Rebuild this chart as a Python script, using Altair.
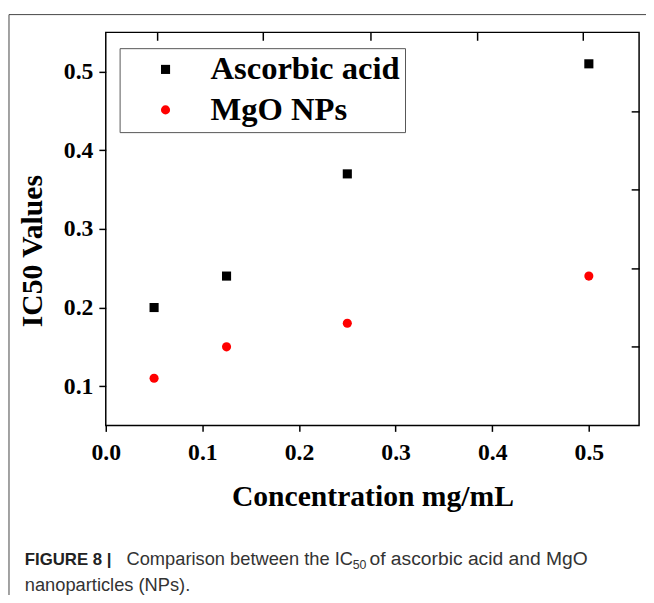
import altair as alt
import pandas as pd

# ---- data ----
concentration = [0.05, 0.125, 0.25, 0.5]
ascorbic_acid = [0.20, 0.24, 0.37, 0.51]
mgo_nps = [0.11, 0.15, 0.18, 0.24]
series_names = ["Ascorbic acid", "MgO NPs"]
x_ticks = [0.0, 0.1, 0.2, 0.3, 0.4, 0.5]
y_ticks = [0.1, 0.2, 0.3, 0.4, 0.5]
top_ticks = [0.0527, 0.163, 0.274, 0.384, 0.494]
right_ticks = [0.15, 0.25, 0.35, 0.45]
caption_bold = "FIGURE 8 |"
caption_line1a = "Comparison between the IC"
caption_sub = "50"
caption_line1b = "of ascorbic acid and MgO"
caption_line2 = "nanoparticles (NPs)."

rows = []
for c, v in zip(concentration, ascorbic_acid):
    rows.append({"conc": c, "ic50": v, "series": series_names[0]})
for c, v in zip(concentration, mgo_nps):
    rows.append({"conc": c, "ic50": v, "series": series_names[1]})
df = pd.DataFrame(rows)

W, H = 540, 398
SERIF = "Liberation Serif"
SANS = "Liberation Sans"

xscale = alt.Scale(domain=[0, 0.552], nice=False, zero=False)
yscale = alt.Scale(domain=[0.05, 0.55], nice=False, zero=False)

points = alt.Chart(df).mark_point(filled=True, opacity=1, size=85).encode(
    x=alt.X("conc:Q", scale=xscale,
            axis=alt.Axis(values=x_ticks, format=".1f", title="Concentration mg/mL",
                          orient="bottom", tickSize=6, labelPadding=9, labelFlush=False,
                          titleY=81, titleBaseline="alphabetic")),
    y=alt.Y("ic50:Q", scale=yscale,
            axis=alt.Axis(values=y_ticks, format=".1f", title="IC50 Values",
                          orient="left", tickSize=7, labelPadding=6, labelFlush=False,
                          titleX=-74, titleY=221, titleAngle=-90,
                          titleBaseline="middle", titleAlign="center")),
    color=alt.Color("series:N",
                    scale=alt.Scale(domain=series_names, range=["#000000", "#ff0000"]),
                    legend=alt.Legend(title=None)),
    shape=alt.Shape("series:N",
                    scale=alt.Scale(domain=series_names, range=["square", "circle"]),
                    legend=alt.Legend(title=None)),
)

# mirror ticks (top and right, inward)
mirror = alt.Chart(df).mark_point(opacity=0).encode(
    x=alt.X("conc:Q", scale=xscale,
            axis=alt.Axis(values=top_ticks, orient="top", labels=False, title=None,
                          domain=False, tickSize=8, offset=-8)),
    y=alt.Y("ic50:Q", scale=yscale,
            axis=alt.Axis(values=right_ticks, orient="right", labels=False, title=None,
                          domain=False, tickSize=8, offset=-8)),
)

one = pd.DataFrame({"k": [0]})

frame_top = alt.Chart(one).mark_rule(color="#444444", strokeWidth=1).encode(
    x=alt.value(-98), x2=alt.value(560), y=alt.value(-18))
frame_left = alt.Chart(one).mark_rule(color="#444444", strokeWidth=1).encode(
    x=alt.value(-98), y=alt.value(-18), y2=alt.value(580))

cap_df = pd.DataFrame({"a": [caption_bold], "b": [caption_line1a], "s": [caption_sub],
                       "d": [caption_line1b], "c": [caption_line2]})
cap_bold = alt.Chart(cap_df).mark_text(
    align="left", baseline="alphabetic", font=SANS, fontSize=17, fontWeight="bold",
    color="#222222").encode(text="a:N", x=alt.value(-82), y=alt.value(539))
cap_1a = alt.Chart(cap_df).mark_text(
    align="left", baseline="alphabetic", font=SANS, fontSize=18.5,
    color="#333333").encode(text="b:N", x=alt.value(21), y=alt.value(539))
cap_sub = alt.Chart(cap_df).mark_text(
    align="left", baseline="alphabetic", font=SANS, fontSize=12.5,
    color="#333333").encode(text="s:N", x=alt.value(250), y=alt.value(543))
cap_1b = alt.Chart(cap_df).mark_text(
    align="left", baseline="alphabetic", font=SANS, fontSize=19.5,
    color="#333333").encode(text="d:N", x=alt.value(267), y=alt.value(539))
cap_2 = alt.Chart(cap_df).mark_text(
    align="left", baseline="alphabetic", font=SANS, fontSize=18.5,
    color="#333333").encode(text="c:N", x=alt.value(-82), y=alt.value(566))

chart = alt.layer(
    frame_top, frame_left, mirror, points, cap_bold, cap_1a, cap_sub, cap_1b, cap_2
).resolve_axis(x="independent", y="independent").properties(
    width=W, height=H,
    autosize=alt.AutoSizeParams(type="none"),
    padding={"left": 99, "top": 21, "right": 7, "bottom": 168},
).configure_view(
    stroke="#000000", strokeWidth=1.5
).configure_axis(
    domain=False, tickColor="#000000", tickWidth=1.5,
    labelFont=SERIF, labelFontWeight="bold", labelFontSize=24, labelColor="#000000",
    titleFont=SERIF, titleFontWeight="bold", titleFontSize=30, titleColor="#000000",
    grid=False,
).configure_legend(
    orient="none", legendX=14, legendY=16, padding=5,
    strokeColor="#555555", fillColor="#ffffff",
    labelFont=SERIF, labelFontWeight="bold", labelFontSize=33, labelColor="#000000",
    symbolSize=85, symbolOffset=25, labelOffset=29, rowPadding=7,
    symbolStrokeWidth=0, labelLimit=400,
)

chart.save("out.html", embed_options={"renderer": "svg", "actions": False})
